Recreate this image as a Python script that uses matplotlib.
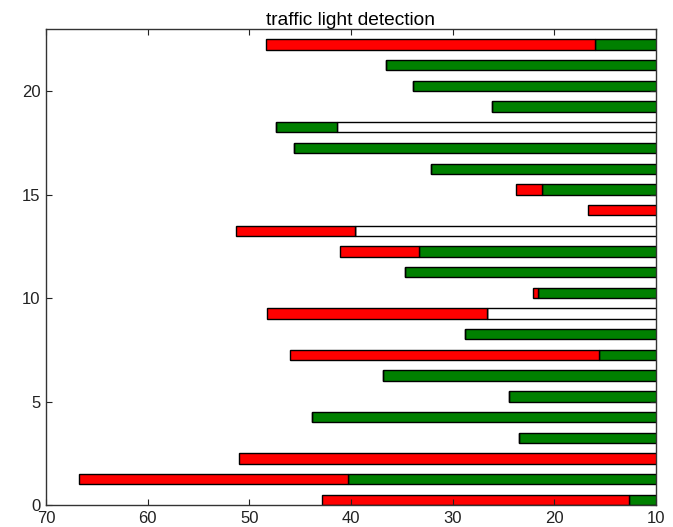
import matplotlib
matplotlib.use("Agg")
import matplotlib.pyplot as plt
import numpy as np

rows = list(range(23))
white = [0, 0, 0, 0, 0, 0, 0, 0, 0, 26.6, 0, 0, 0, 39.6, 0, 0, 0, 0, 41.4, 0, 0, 0, 0]
green = [12.7, 40.3, 0, 23.5, 43.8, 24.5, 36.9, 15.6, 28.8, 0, 21.6, 34.65, 33.3, 0,
         0, 21.2, 32.1, 45.6, 6.0, 26.15, 33.9, 36.6, 16.0]
red = [30.15, 26.5, 51.0, 0, 0, 0, 0, 30.4, 0, 21.7, 0.5, 0, 7.8, 11.75,
       16.7, 2.6, 0, 0, 0, 0, 0, 0, 32.35]
title = "traffic light detection"

plt.rcParams['font.family'] = ['Liberation Sans', 'DejaVu Sans']
fig = plt.figure(figsize=(6.73, 5.27), dpi=100)
ax = fig.add_axes([46/673, 1-505/527, 610/673, 476/527])

w = np.array(white)
g = np.array(green)
r = np.array(red)
kw = dict(height=0.5, align='edge', edgecolor='black', linewidth=1)
ax.barh(rows, w, left=0, color='white', **kw)
ax.barh(rows, g, left=w, color='green', **kw)
ax.barh(rows, r, left=w + g, color='red', **kw)

ax.set_xlim(70, 10)
ax.set_ylim(0, 23)
ax.set_xticks([70, 60, 50, 40, 30, 20, 10])
ax.set_yticks([0, 5, 10, 15, 20])
ax.tick_params(direction='in', top=True, right=True, length=4.5, width=0.8,
               labelsize=12, colors='#222222', pad=4)
ax.tick_params(axis='y', pad=4)
for s in ax.spines.values():
    s.set_linewidth(1.0)
    s.set_color('#333333')
ax.set_title(title, fontsize=13.8, pad=3)
fig.savefig("out.png", dpi=100)
